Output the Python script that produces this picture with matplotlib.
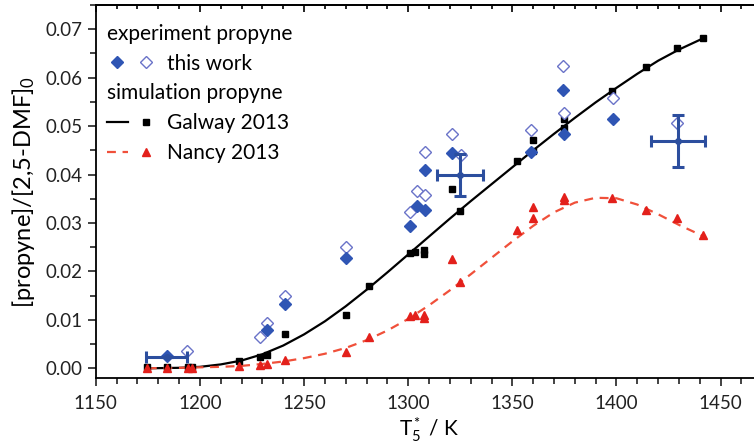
import matplotlib
matplotlib.use("Agg")
from matplotlib import pyplot as plt
from matplotlib.lines import Line2D
from matplotlib.legend_handler import HandlerTuple
from matplotlib.ticker import MultipleLocator, FormatStrFormatter

plt.rcParams['font.family'] = ['Lato', 'DejaVu Sans']
plt.rcParams['mathtext.fontset'] = 'custom'
plt.rcParams['mathtext.rm'] = 'Lato'
plt.rcParams['mathtext.it'] = 'Lato:italic'

# simulation points (same temperatures for both mechanisms)
T_sim = [1174.5, 1184, 1194.5, 1196, 1219, 1229, 1232, 1241, 1270, 1281,
         1301, 1303.5, 1307.5, 1307.5, 1321, 1325, 1352, 1360, 1360,
         1375, 1375, 1398, 1414, 1429, 1441.5]
galway_pts = [0.0003, 0.0003, 0.0003, 0.0003, 0.0016, 0.0024, 0.0027, 0.0070,
              0.0110, 0.0170, 0.0237, 0.0241, 0.0236, 0.0245, 0.0370, 0.0325,
              0.0427, 0.0449, 0.0471, 0.0496, 0.0514, 0.0573, 0.0623, 0.0661, 0.0681]
nancy_pts = [0.0001, 0.0001, 0.0001, 0.0001, 0.0005, 0.0007, 0.0008, 0.0017,
             0.0034, 0.0064, 0.0108, 0.0110, 0.0103, 0.0110, 0.0225, 0.0179,
             0.0286, 0.0310, 0.0334, 0.0348, 0.0354, 0.0351, 0.0327, 0.0310, 0.0275]

# simulation curves
T_curve = [1175, 1190, 1200, 1210, 1220, 1230, 1240, 1250, 1260, 1270, 1280,
           1290, 1300, 1310, 1320, 1330, 1340, 1350, 1360, 1370, 1380, 1390,
           1400, 1410, 1420, 1430, 1442]
galway_curve = [0.0000, 0.0001, 0.0003, 0.0008, 0.0016, 0.0029, 0.0047, 0.0070,
                0.0097, 0.0128, 0.0162, 0.0198, 0.0235, 0.0272, 0.0309, 0.0345,
                0.0380, 0.0415, 0.0450, 0.0484, 0.0517, 0.0549, 0.0579, 0.0608,
                0.0635, 0.0658, 0.0682]
nancy_curve = [0.0000, 0.0001, 0.0002, 0.0003, 0.0005, 0.0009, 0.0014, 0.0021,
               0.0030, 0.0042, 0.0058, 0.0078, 0.0102, 0.0130, 0.0161, 0.0194,
               0.0228, 0.0262, 0.0294, 0.0322, 0.0342, 0.0352, 0.0351, 0.0338,
               0.0318, 0.0296, 0.0272]

# experiment
T_fill = [1184, 1232, 1241, 1270, 1301, 1304, 1308, 1308, 1321, 1359, 1374.5, 1375, 1398.5]
y_fill = [0.0025, 0.0080, 0.0133, 0.0227, 0.0294, 0.0335, 0.0327, 0.0409, 0.0444,
          0.0447, 0.0575, 0.0483, 0.0514]
T_open = [1194, 1229, 1232, 1241, 1270, 1301, 1304, 1308, 1308, 1321, 1325.5,
          1359, 1374.5, 1375, 1398.5, 1429]
y_open = [0.0036, 0.0065, 0.0093, 0.0149, 0.0251, 0.0323, 0.0367, 0.0358, 0.0446,
          0.0484, 0.0440, 0.0492, 0.0624, 0.0528, 0.0559, 0.0506]

# error bars
T_err = [1184, 1325, 1429.5]
y_err = [0.0023, 0.0399, 0.0469]
xerr = [10, 11, 13]
yerr = [0.0, 0.0044, 0.0054]

blue = '#2f55b4'
blue_open = '#6a73c8'
blue_err = '#2c4e9e'
red = '#e3201b'
red_line = '#f0503a'

fig = plt.figure(figsize=(7.54, 4.46), dpi=100)
ax = fig.add_axes([0.127, 0.1525, 0.884, 0.8363])

ax.plot(T_curve, galway_curve, color='black', lw=1.6, zorder=2)
ax.plot(T_curve, nancy_curve, color=red_line, lw=1.6, ls=(0, (4, 3)), zorder=2)
ax.plot(T_sim, galway_pts, 's', color='black', ms=5, zorder=3)
ax.plot(T_sim, nancy_pts, '^', color=red, ms=6, zorder=3)
ax.plot(T_open, y_open, 'D', mfc='white', mec=blue_open, mew=1.0, ms=6.3, zorder=4)
ax.plot(T_fill, y_fill, 'D', color=blue, ms=6.3, zorder=4)
ax.errorbar(T_err, y_err, xerr=xerr, yerr=yerr, fmt='o', color=blue_err, ms=4,
            elinewidth=2.2, capsize=4.5, capthick=2.2, zorder=5)

ax.set_xlim(1150, 1470)
ax.set_ylim(-0.002, 0.075)
ax.xaxis.set_major_locator(MultipleLocator(50))
ax.xaxis.set_minor_locator(MultipleLocator(10))
ax.yaxis.set_major_locator(MultipleLocator(0.01))
ax.yaxis.set_minor_locator(MultipleLocator(0.005))
ax.yaxis.set_major_formatter(FormatStrFormatter('%.2f'))
ax.tick_params(which='both', direction='out', labelsize=13.5, width=1.2, colors='#222222')
ax.tick_params(which='major', length=6)
ax.tick_params(which='minor', length=4)
ax.tick_params(axis='x', pad=6)
for s in ax.spines.values():
    s.set_linewidth(1.3)
ax.spines['right'].set_visible(False)

top = ax.secondary_xaxis('top')
top.xaxis.set_major_locator(MultipleLocator(50))
top.xaxis.set_minor_locator(MultipleLocator(10))
top.tick_params(which='both', direction='in', labeltop=False, width=1.2)
top.tick_params(which='major', length=5)
top.tick_params(which='minor', length=3)
top.spines['top'].set_linewidth(1.3)

ax.set_xlabel(r'$\mathrm{T}_5^*$ / K', fontsize=15, labelpad=3)
ax.set_ylabel(r'[propyne]/[2,5-DMF]$_\mathrm{0}$', fontsize=17, labelpad=6)

empty = Line2D([], [], linestyle='none')
d_fill = Line2D([], [], marker='D', color=blue, ls='none', ms=6)
d_open = Line2D([], [], marker='D', mfc='white', mec=blue_open, ls='none', ms=6)
g_line = Line2D([], [], color='black', lw=1.6)
g_mark = Line2D([], [], marker='s', color='black', ls='none', ms=5)
n_line = Line2D([], [], color=red_line, lw=1.6, ls=(0, (4, 3)))
n_mark = Line2D([], [], marker='^', color=red, ls='none', ms=6)

labels = ['experiment propyne', 'this work', 'simulation propyne', 'Galway 2013', 'Nancy 2013']
handles = [empty, (d_fill, d_open), empty, (g_line, g_mark), (n_line, n_mark)]
leg = ax.legend(handles, labels, loc='upper left', bbox_to_anchor=(-0.012, 1.0),
                frameon=False, fontsize=15, handlelength=2.4, handletextpad=0.5,
                labelspacing=0.47, borderaxespad=0.25, borderpad=0.65,
                handler_map={tuple: HandlerTuple(ndivide=None, pad=0.3)})

rows = [r for col in leg._legend_handle_box.get_children() for r in col.get_children()]
for r, lab in zip(rows, labels):
    if 'propyne' in lab:
        r.get_children()[0].set_width(0)
        r.sep = 0

fig.savefig('out.png', dpi=100)
